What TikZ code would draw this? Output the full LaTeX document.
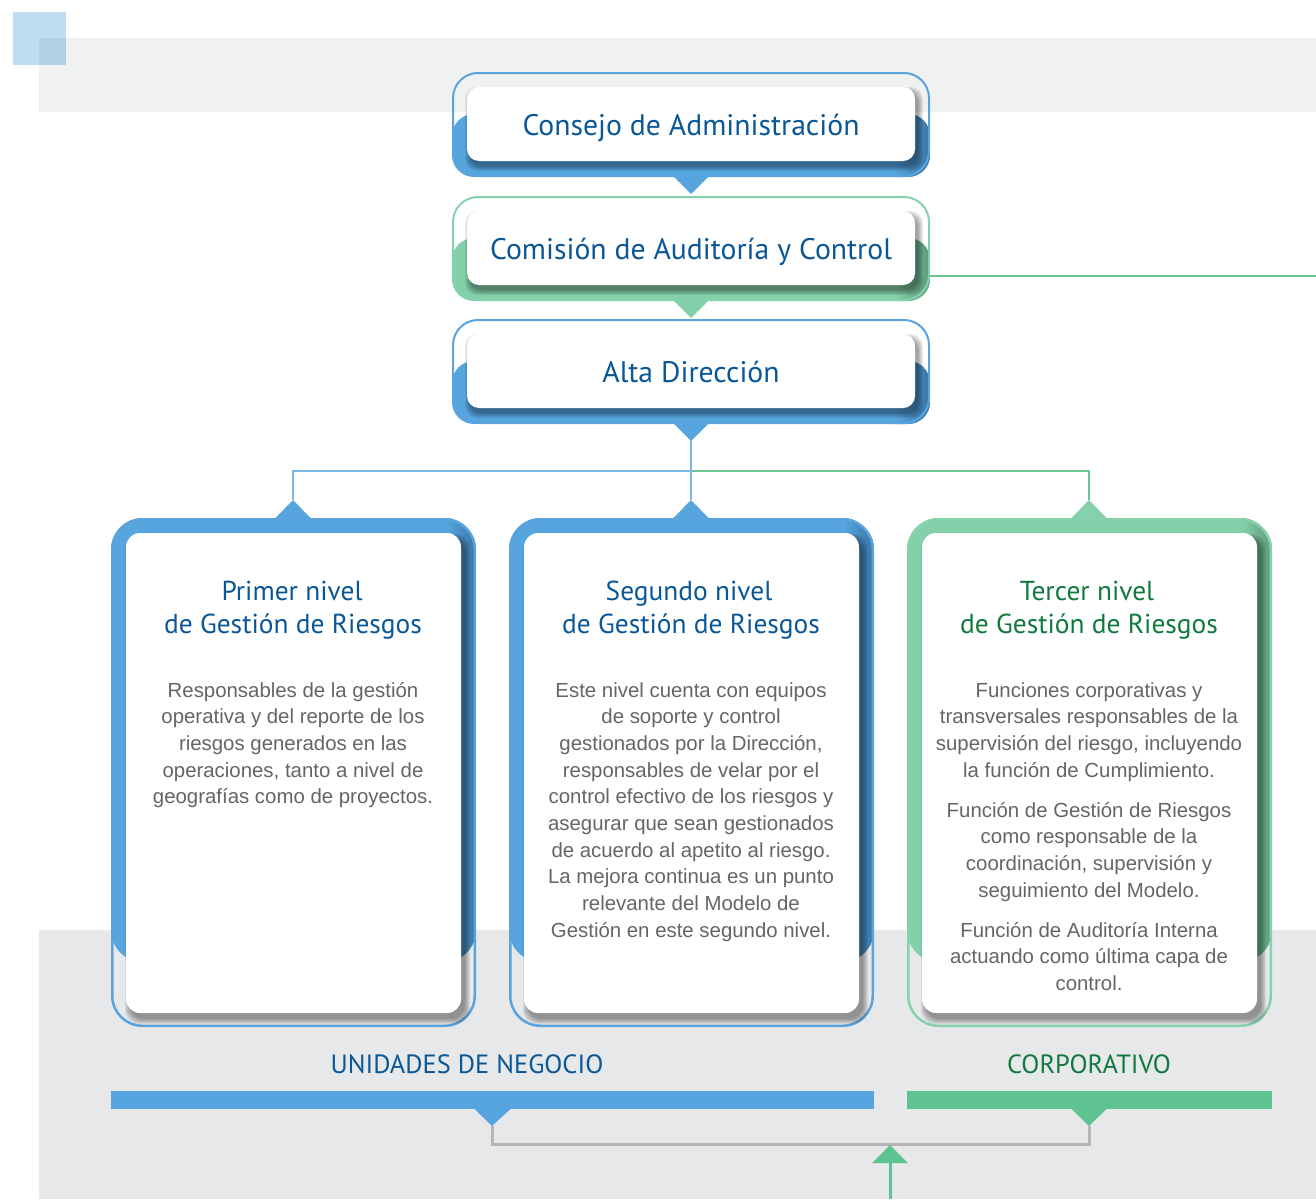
\documentclass[tikz,border=0pt]{standalone}
\usepackage{fontspec}
\setmainfont{Liberation Sans}
\newfontfamily\headfont{PT Sans}
\usetikzlibrary{calc}
\definecolor{bandtop}{HTML}{F0F1F1}
\definecolor{bandbot}{HTML}{E7E8EA}
\definecolor{sqblue}{HTML}{BEDDF2}
\definecolor{cblue}{HTML}{56A5DF}
\definecolor{cbluedk}{HTML}{3A75A5}
\definecolor{cbluel}{HTML}{5AA3DC}
\definecolor{cgreen}{HTML}{84D0AA}
\definecolor{cgreendk}{HTML}{5C9A7C}
\definecolor{cgreenl}{HTML}{86D2AC}
\definecolor{tblue}{HTML}{0A5797}
\definecolor{tgreen}{HTML}{107A3E}
\definecolor{tgray}{HTML}{646567}
\definecolor{lnblue}{HTML}{7AB8E6}
\definecolor{lngreen}{HTML}{6CC597}
\definecolor{bargreen}{HTML}{5EC391}
\definecolor{lngray}{HTML}{B4B5B7}
\newcommand\softshadow[5]{%
  \foreach \s in {0,1,...,5}{%
    \fill[black, opacity=0.07, rounded corners=#5] ($(#1,#2)+(-\s,-\s)$) rectangle ($(#3,#4)+(\s,\s)$);
  }}
\newcommand\topframe[4]{%
  \begin{scope}
    \clip[rounded corners=22pt] (452,#1+42) rectangle (930,#1+105);
    \fill[#2] (452,#1+42) rectangle (930,#1+105);
    \shade[left color=#2, right color=#4] (895,#1+42) rectangle (930.5,#1+105);
  \end{scope}
  \draw[#3, line width=2pt, rounded corners=25pt] (453,#1+1) rectangle (929,#1+104);
  \fill[#2] (673,#1+104) -- (709,#1+104) -- (691,#1+122) -- cycle;
  \softshadow{470}{#1+20}{918}{#1+94}{12pt}
}
\newcommand\levelframe[4]{%
  \begin{scope}
    \clip[rounded corners=32pt] (#1,518) rectangle (#1+365,962);
    \fill[#2] (#1,518) rectangle (#1+365,962);
    \shade[left color=#2, right color=#4] (#1+335,518) rectangle (#1+365.5,962);
  \end{scope}
  \fill[#2] (#1+164,518.5) -- (#1+200,518.5) -- (#1+182,500) -- cycle;
  \draw[#3, line width=2.5pt, rounded corners=30pt] (#1+1.25,519.25) rectangle (#1+363.75,1025.75);
  \softshadow{#1+19}{539}{#1+354}{1019}{14pt}
}
\tikzset{
  whitebox/.style={fill=white, rounded corners=12pt, inner sep=0pt, draw=none},
  toptext/.style={font=\headfont\fontsize{29.7}{34}\selectfont, text=tblue, text height=22pt, text depth=0pt},
  lvtitle/.style={font=\headfont\fontsize{27.4}{32}\selectfont, anchor=base, inner sep=0pt},
  body/.style={font=\fontsize{20.4}{26.7}\selectfont, text=tgray, anchor=base, inner sep=0pt},
  bottomlabel/.style={font=\headfont\fontsize{26.4}{32}\selectfont, anchor=base, inner sep=0pt},
}
\begin{document}
\begin{tikzpicture}[x=1pt,y=-1pt]
\useasboundingbox (0,0) rectangle (1316,1199);
\fill[white] (0,0) rectangle (1316,1199);
\fill[bandtop] (39,38) rectangle (1316,112);
\fill[bandbot] (39,930) rectangle (1316,1199);
\fill[sqblue, blend mode=multiply] (13,12) rectangle (66,65);

% top boxes
\topframe{72}{cblue}{cbluel}{cbluedk}
\topframe{196}{cgreen}{cgreenl}{cgreendk}
\topframe{319}{cblue}{cbluel}{cbluedk}
\node[whitebox, minimum width=448pt, minimum height=74pt, toptext] (consejo) at (691,124) {Consejo de Administración};
\node[whitebox, minimum width=448pt, minimum height=74pt, toptext] (comision) at (691,248) {Comisión de Auditoría y Control};
\node[whitebox, minimum width=448pt, minimum height=74pt, toptext] (alta) at (691,371) {Alta Dirección};

\coordinate (com-out) at (929,276);
\coordinate (right-end) at (1316,276);
\draw[lngreen, line width=2.5pt] (com-out) -- (right-end);

% connectors
\coordinate (alta-tip) at (691,440);
\coordinate (lv1-tip) at (293,500);
\coordinate (lv2-tip) at (691,500);
\coordinate (lv3-tip) at (1089,500);
\coordinate (junction) at (691,471);
\draw[lngreen, line width=2pt] (lv3-tip) |- (junction);
\draw[lnblue, line width=2pt] (lv1-tip) |- (junction);
\draw[lnblue, line width=2pt] (alta-tip) -- (lv2-tip);

% level boxes
\levelframe{111}{cblue}{cbluel}{cbluedk}
\levelframe{509}{cblue}{cbluel}{cbluedk}
\levelframe{907}{cgreen}{cgreenl}{cgreendk}
\node[whitebox, rounded corners=14pt, minimum width=335pt, minimum height=480pt] (lv1) at (293.5,773) {};
\node[whitebox, rounded corners=14pt, minimum width=335pt, minimum height=480pt] (lv2) at (691.5,773) {};
\node[whitebox, rounded corners=14pt, minimum width=335pt, minimum height=480pt] (lv3) at (1089.5,773) {};

\node[lvtitle, text=tblue] (lv1t1) at (292,600) {Primer nivel};
\node[lvtitle, text=tblue] (lv1t2) at (293,633) {de Gestión de Riesgos};
\node[lvtitle, text=tblue] (lv2t1) at (689,600) {Segundo nivel};
\node[lvtitle, text=tblue] (lv2t2) at (691,633) {de Gestión de Riesgos};
\node[lvtitle, text=tgreen] (lv3t1) at (1087,600) {Tercer nivel};
\node[lvtitle, text=tgreen] (lv3t2) at (1089,633) {de Gestión de Riesgos};

\foreach \t [count=\i from 0] in {Responsables de la gestión, operativa y del reporte de los, riesgos generados en las, {operaciones, tanto a nivel de}, geografías como de proyectos.}
  \node[body] (b1-\i) at (293,697+26.7*\i) {\t};
\foreach \t [count=\i from 0] in {Este nivel cuenta con equipos, de soporte y control, {gestionados por la Dirección,}, responsables de velar por el, control efectivo de los riesgos y, asegurar que sean gestionados, de acuerdo al apetito al riesgo., La mejora continua es un punto, relevante del Modelo de, Gestión en este segundo nivel.}
  \node[body] (b2-\i) at (691,697+26.7*\i) {\t};
\foreach \t [count=\i from 0] in {Funciones corporativas y, transversales responsables de la, {supervisión del riesgo, incluyendo}, la función de Cumplimiento.}
  \node[body] (b3a-\i) at (1089,697+26.7*\i) {\t};
\foreach \t [count=\i from 0] in {Función de Gestión de Riesgos, como responsable de la, {coordinación, supervisión y}, seguimiento del Modelo.}
  \node[body] (b3b-\i) at (1089,817+26.7*\i) {\t};
\foreach \t [count=\i from 0] in {Función de Auditoría Interna, actuando como última capa de, control.}
  \node[body] (b3c-\i) at (1089,937+26.7*\i) {\t};

% bottom
\node[bottomlabel, text=tblue] (unidades) at (467,1073) {UNIDADES DE NEGOCIO};
\node[bottomlabel, text=tgreen] (corporativo) at (1089,1073) {CORPORATIVO};
\node[fill=cblue, inner sep=0pt, minimum width=763pt, minimum height=18pt] (barun) at (492.5,1100) {};
\node[fill=bargreen, inner sep=0pt, minimum width=365pt, minimum height=18pt] (barco) at (1089.5,1100) {};
\coordinate (un-tip) at (492,1126);
\coordinate (co-tip) at (1089,1126);
\fill[cblue] (474,1108.5) -- (511,1108.5) -- (un-tip) -- cycle;
\fill[bargreen] (1071,1108.5) -- (1107,1108.5) -- (co-tip) -- cycle;
\draw[lngray, line width=3pt] (un-tip) -- ++(0,18) -| (co-tip);
\coordinate (arrow-base) at (890,1199);
\coordinate (arrow-tip) at (890,1145);
\draw[bargreen, line width=3pt] (arrow-base) -- ($(arrow-tip)+(0,18)$);
\fill[bargreen] ($(arrow-tip)+(-18,18)$) -- ($(arrow-tip)+(18,18)$) -- (arrow-tip) -- cycle;
\end{tikzpicture}
\end{document}
